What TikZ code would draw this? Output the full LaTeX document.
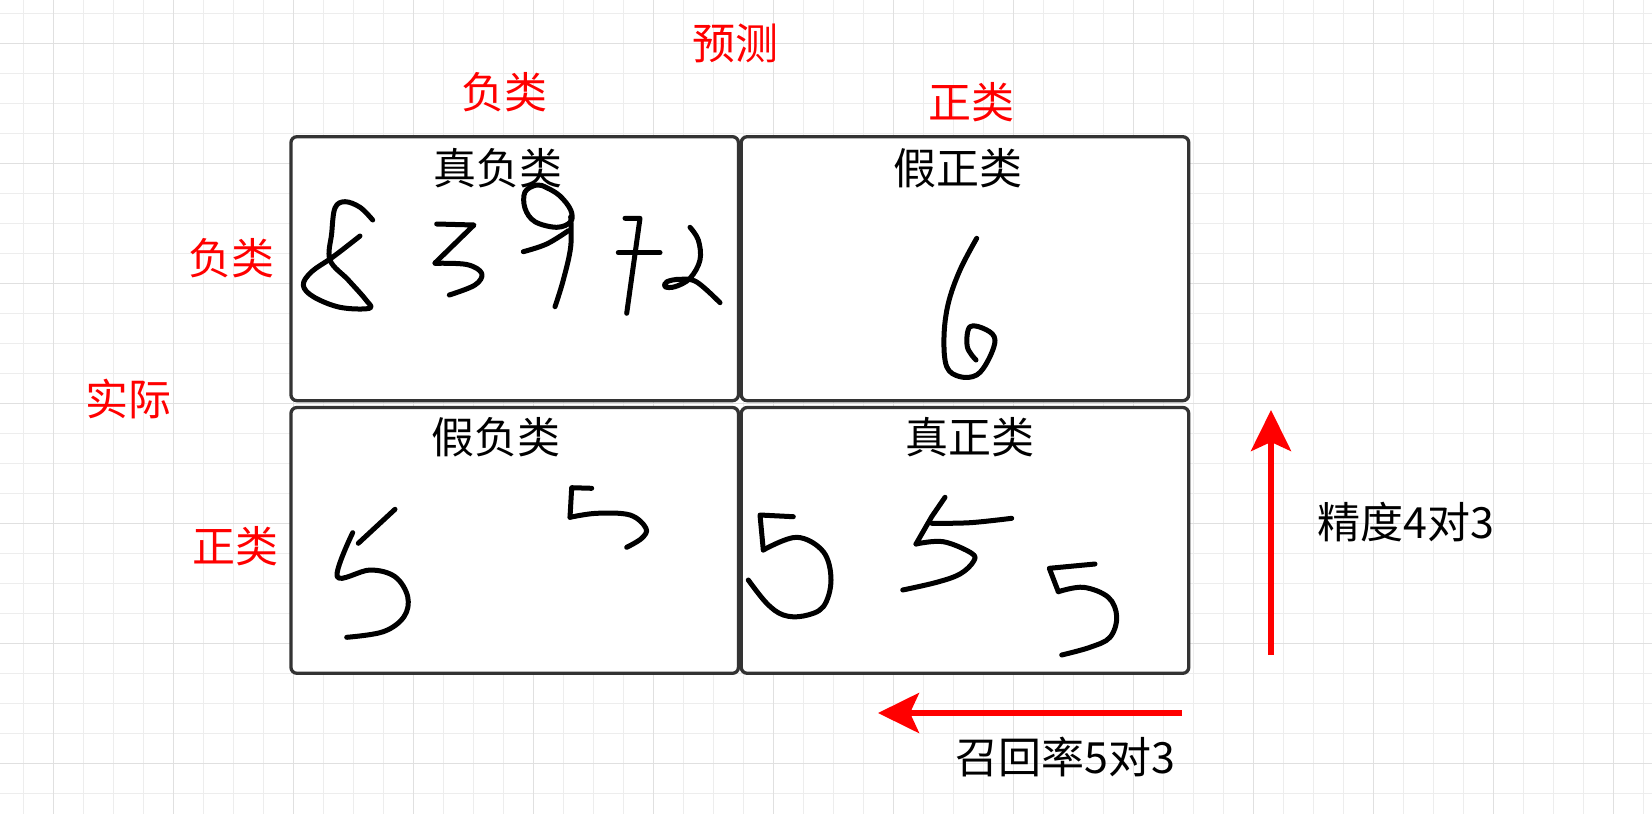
\documentclass[tikz,border=0pt]{standalone}
\usepackage{fontspec}
\setmainfont{Noto Sans CJK SC}
\usetikzlibrary{arrows.meta}
\definecolor{gminor}{HTML}{EDEDED}
\definecolor{gmajor}{HTML}{E0E0E0}
\definecolor{boxline}{HTML}{333333}
\definecolor{myred}{HTML}{FF0000}
\begin{document}
\begin{tikzpicture}[x=1pt,y=-1pt,
  minorline/.style={draw=gminor,line width=1.3pt},
  majorline/.style={draw=gmajor,line width=1.6pt},
  cell/.style={draw=boxline,line width=3.3pt,rounded corners=6pt,fill=white,minimum width=447.5pt,minimum height=264pt,inner sep=0pt},
  redlbl/.style={text=myred,font=\fontsize{43}{50}\selectfont,inner sep=0pt},
  blacklbl/.style={text=black,font=\fontsize{43}{50}\selectfont,inner sep=0pt},
  hand/.style={draw=black,line width=5pt,line cap=round,line join=round},
  redarrow/.style={draw=myred,line width=5.5pt,-{Stealth[length=41pt,width=40pt,inset=9pt]}}]
\useasboundingbox (0,0) rectangle (1652,814);
\fill[white] (0,0) rectangle (1652,814);
% grid
\foreach \i in {0,...,54} {\draw[minorline] ({23.33+30*\i},0) -- ({23.33+30*\i},814);}
\foreach \i in {0,...,26} {\draw[minorline] (0,{13.33+30*\i}) -- (1652,{13.33+30*\i});}
\foreach \i in {0,...,13} {\draw[majorline] ({53.33+120*\i},0) -- ({53.33+120*\i},814);}
\foreach \i in {0,...,6} {\draw[majorline] (0,{43.33+120*\i}) -- (1652,{43.33+120*\i});}
% cells
\node[cell] (tn) at (514.7,268.7) {};
\node[cell] (fp) at (965,268.7) {};
\node[cell,minimum height=265.8pt] (fn) at (514.7,540.4) {};
\node[cell,minimum height=265.8pt] (tp) at (965,540.4) {};
% titles
\node[blacklbl] (tnT) at (498,168) {真负类};
\node[blacklbl] (fpT) at (958,168) {假正类};
\node[blacklbl] (fnT) at (496,437) {假负类};
\node[blacklbl] (tpT) at (970,437) {真正类};
% red labels
\node[redlbl] (pred) at (735,43) {预测};
\node[redlbl] (pneg) at (504,92) {负类};
\node[redlbl] (ppos) at (971,102) {正类};
\node[redlbl] (aneg) at (231,258) {负类};
\node[redlbl] (act) at (128,399) {实际};
\node[redlbl] (apos) at (235,546) {正类};
% handwritten digits
% 8
\draw[hand] plot[smooth,tension=0.6] coordinates {(372.7,220) (360,207.3) (345,201.7) (335,208) (331.7,233.3) (330,260) (348.3,280) (366,300) (369.3,308.3) (340,307.3) (313.3,296.7) (303.3,285) (311.7,271.7) (333.3,256.7) (360,236)};
% 3
\draw[hand] (436.7,224) -- (474,225) -- (435,263);
\draw[hand] plot[smooth,tension=0.6] coordinates {(435,263.3) (466.7,264.5) (481.7,273.3) (475,285) (449.3,295)};
% 9
\draw[hand] plot[smooth cycle,tension=0.6] coordinates {(536.7,185) (525,192) (525,208.3) (535,221.7) (556.7,227.3) (570.7,221.7) (570.7,210) (560,196) (546.7,187.7)};
\draw[hand] plot[smooth,tension=0.6] coordinates {(570.7,216.7) (570.7,246.7) (563.3,280) (555,306.7)};
\draw[hand] plot[smooth,tension=0.6] coordinates {(523.3,251.7) (546.7,244) (568.3,230.7)};
% 7
\draw[hand] (625,218.3) -- (640,218.3) -- (626.7,313.3);
\draw[hand] (618.3,252.7) -- (660,252.7);
% 2
\draw[hand] plot[smooth,tension=0.6] coordinates {(690,227.3) (698.3,240) (700,260) (690,278.3) (675,286.7) (665,286.7) (667,281.7) (680,279.3) (696.7,282) (720,302.7)};
% 6
\draw[hand] plot[smooth,tension=0.6] coordinates {(976.7,238.3) (960,270) (948.3,303.3) (944,336.7) (946.7,366.7) (960,376.7) (976.7,375) (988.3,360) (995,340) (986.7,330) (970,326.7) (967.3,346.7) (976,360)};
% 5 (false negative, left)
\draw[hand] (395,509.3) -- (358.3,543.3);
\draw[hand] plot[smooth,tension=0.6] coordinates {(352.7,532.7) (337.3,576.7) (370,570) (395,576.7) (407.7,596.7) (404,616.7) (383.3,631.7) (346.7,637.3)};
% 5 (false negative, right)
\draw[hand] (591.7,488.3) -- (571.7,487.7) -- (570,517.3);
\draw[hand] plot[smooth,tension=0.6] coordinates {(570,517.3) (596.7,513.3) (630,515) (646,528.3) (641.7,538.3) (626.7,547.3)};
% 5 (true positive, 1)
\draw[hand] (793.3,516.7) -- (760,515) -- (763.3,550);
\draw[hand] plot[smooth,tension=0.6] coordinates {(763.3,550) (796.7,537.3) (823.3,551.7) (831,580) (823.3,606.7) (803.3,616) (783.3,615) (766.7,603.3) (748.3,580)};
% 5 (true positive, 2)
\draw[hand] (945,497.3) -- (931.7,516.7) -- (916,544);
\draw[hand] plot[smooth,tension=0.6] coordinates {(916,544) (943.3,541.7) (971.7,553.3) (973.3,561.7) (960,574) (936.7,582.3) (902.7,590)};
\draw[hand] plot[smooth,tension=0.6] coordinates {(931.7,523.3) (970,522.7) (1011.7,518.3)};
% 5 (true positive, 3)
\draw[hand] (1095,564) -- (1049.3,568.3) -- (1058.3,591.7);
\draw[hand] plot[smooth,tension=0.6] coordinates {(1058.3,591.7) (1083.3,587.3) (1108.3,597.3) (1116.7,616.7) (1110,637.3) (1090,647.3) (1061.7,655)};
% arrows
\coordinate (vA) at (1271,655);
\coordinate (vB) at (1271,410);
\draw[redarrow] (vA) -- (vB);
\coordinate (hA) at (1182,713);
\coordinate (hB) at (878,713);
\draw[redarrow] (hA) -- (hB);
\node[blacklbl] (prec) at (1406,522) {精度4对3};
\node[blacklbl] (rec) at (1065.5,757) {召回率5对3};
\end{tikzpicture}
\end{document}
